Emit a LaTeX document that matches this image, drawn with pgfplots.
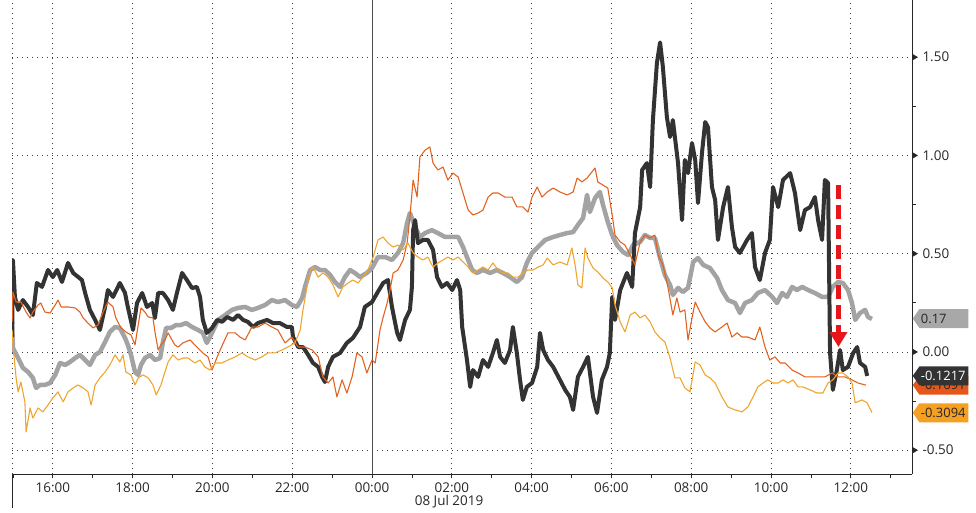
\documentclass[border=0pt]{standalone}
\usepackage{pgfplots}
\pgfplotsset{compat=1.18}
\usepackage{fontspec}
\setmainfont{Open Sans}
\usetikzlibrary{arrows.meta,shapes.symbols}
\definecolor{cblack}{HTML}{333333}
\definecolor{cgray}{HTML}{A3A3A3}
\definecolor{corange}{HTML}{E2631F}
\definecolor{cyellow}{HTML}{EFA52E}
\definecolor{bgray}{HTML}{A8A8A8}
\definecolor{borange}{HTML}{E4571A}
\definecolor{byellow}{HTML}{F5A023}
\definecolor{cred}{HTML}{E8161B}
\begin{document}
\begin{tikzpicture}[x=1bp,y=1bp]
\path[use as bounding box] (-12,-39) rectangle (964,474);
\begin{axis}[
  at={(0,0)}, anchor=south west,
  scale only axis, width=900bp, height=474bp,
  xmin=-9.023, xmax=13.534, ymin=-0.621, ymax=1.791,
  axis x line*=bottom, axis y line*=right,
  axis line style={draw=black!85, line width=0.8bp},
  xtick={-8,-6,...,12},
  xticklabels={16:00,18:00,20:00,22:00,00:00,02:00,04:00,06:00,08:00,10:00,12:00},
  minor xtick={-9,-7,...,13},
  ytick={-0.5,0,0.5,1,1.5},
  yticklabels={-0.50,0.00,0.50,1.00,1.50},
  minor ytick={-0.25,0.25,0.75,1.25},
  tick align=outside,
  major tick length=4bp, minor tick length=4bp,
  tick style={draw=black!85, line width=0.7bp},
  grid=major,
  major grid style={draw=black!75, line width=0.8bp, dash pattern=on 1bp off 4bp},
  xticklabel style={font=\fontsize{13.5}{15}\selectfont, text=black!85, anchor=north, yshift=-1bp},
  yticklabel style={font=\fontsize{13.5}{15}\selectfont, text=black!85, anchor=west, xshift=3bp},
  clip mode=individual,
]
% left dotted edge and 00:00 separator
\draw[black!75, line width=0.8bp, dash pattern=on 1bp off 4bp] (axis cs:-9.023,-0.621) -- (axis cs:-9.023,1.791);
\draw[black!70, line width=0.9bp] (axis cs:0,-0.621) -- (axis cs:0,1.791);
\draw[black!85, line width=0.9bp] (axis cs:-9.023,-0.621) -- ++(0bp,-34bp);
\node[font=\fontsize{13.5}{15}\selectfont, text=black!85] at (axis cs:1.93,-0.621) [yshift=-28bp] {08 Jul 2019};

% gray
\addplot[cgray, line width=4.5bp, line join=round] coordinates {
(-9.02,0.153)(-9.00,0.020)(-8.87,-0.031)(-8.75,-0.081)(-8.62,-0.102)(-8.50,-0.132)(-8.42,-0.183)(-8.32,-0.168)(-8.20,-0.168)(-8.07,-0.158)(-7.94,-0.117)(-7.82,-0.056)(-7.69,-0.066)(-7.57,-0.051)(-7.44,-0.031)(-7.32,-0.015)(-7.19,-0.041)(-7.07,-0.066)(-6.94,-0.015)(-6.82,0.000)(-6.69,0.051)(-6.57,0.102)(-6.44,0.127)(-6.32,0.122)(-6.19,0.071)(-6.12,0.036)(-6.04,-0.015)(-5.94,-0.102)(-5.86,-0.117)(-5.79,-0.066)(-5.69,-0.031)(-5.56,-0.015)(-5.44,-0.041)(-5.31,-0.031)(-5.24,0.051)(-5.16,0.122)(-5.04,0.122)(-4.91,0.137)(-4.79,0.137)(-4.66,0.147)(-4.51,0.127)(-4.36,0.112)(-4.24,0.097)(-4.14,0.046)(-4.01,0.097)(-3.86,0.163)(-3.68,0.188)(-3.51,0.214)(-3.36,0.224)(-3.18,0.229)(-3.01,0.214)(-2.86,0.224)(-2.68,0.239)(-2.51,0.264)(-2.36,0.254)(-2.18,0.264)(-2.01,0.239)(-1.88,0.229)(-1.75,0.275)(-1.68,0.331)(-1.55,0.417)(-1.43,0.432)(-1.30,0.417)(-1.18,0.417)(-1.05,0.392)(-0.93,0.356)(-0.80,0.331)(-0.68,0.381)(-0.55,0.417)(-0.43,0.402)(-0.30,0.381)(-0.13,0.402)(0.00,0.427)(0.15,0.483)(0.33,0.483)(0.50,0.468)(0.65,0.504)(0.78,0.554)(0.88,0.656)(0.95,0.707)(1.08,0.636)(1.20,0.585)(1.33,0.605)(1.50,0.620)(1.65,0.605)(1.83,0.585)(2.01,0.585)(2.16,0.585)(2.28,0.534)(2.38,0.483)(2.51,0.417)(2.63,0.402)(2.78,0.417)(2.96,0.402)(3.13,0.417)(3.28,0.402)(3.46,0.381)(3.63,0.356)(3.76,0.381)(3.88,0.453)(4.01,0.504)(4.16,0.534)(4.34,0.570)(4.54,0.585)(4.71,0.595)(4.89,0.605)(5.04,0.610)(5.16,0.646)(5.29,0.682)(5.39,0.799)(5.46,0.712)(5.59,0.783)(5.71,0.814)(5.79,0.748)(5.91,0.661)(6.02,0.595)(6.14,0.544)(6.29,0.509)(6.42,0.493)(6.54,0.544)(6.72,0.560)(6.84,0.595)(6.97,0.580)(7.09,0.580)(7.22,0.478)(7.34,0.392)(7.47,0.341)(7.54,0.290)(7.67,0.326)(7.79,0.305)(7.92,0.326)(8.05,0.458)(8.17,0.478)(8.30,0.443)(8.47,0.427)(8.65,0.376)(8.77,0.315)(8.92,0.264)(9.10,0.249)(9.22,0.198)(9.35,0.249)(9.52,0.264)(9.67,0.300)(9.85,0.315)(10.03,0.280)(10.15,0.249)(10.28,0.300)(10.40,0.280)(10.53,0.331)(10.65,0.315)(10.78,0.331)(10.93,0.315)(11.10,0.300)(11.28,0.280)(11.43,0.280)(11.55,0.331)(11.68,0.356)(11.80,0.351)(11.93,0.315)(12.03,0.249)(12.11,0.163)(12.23,0.198)(12.36,0.214)(12.43,0.178)(12.53,0.168)
};
% black
\addplot[cblack, line width=4bp, line join=round] coordinates {
(-9.02,0.076)(-9.00,0.468)(-8.95,0.280)(-8.87,0.214)(-8.75,0.264)(-8.62,0.229)(-8.50,0.188)(-8.40,0.351)(-8.27,0.331)(-8.12,0.417)(-8.00,0.381)(-7.89,0.417)(-7.77,0.356)(-7.62,0.453)(-7.49,0.402)(-7.27,0.366)(-7.19,0.300)(-7.07,0.214)(-6.94,0.163)(-6.82,0.112)(-6.69,0.229)(-6.62,0.315)(-6.49,0.280)(-6.32,0.351)(-6.19,0.300)(-6.12,0.229)(-5.99,0.112)(-5.89,0.249)(-5.76,0.300)(-5.64,0.229)(-5.51,0.249)(-5.44,0.173)(-5.36,0.300)(-5.24,0.300)(-5.11,0.264)(-4.99,0.214)(-4.89,0.300)(-4.76,0.402)(-4.64,0.366)(-4.51,0.325)(-4.39,0.331)(-4.31,0.280)(-4.24,0.163)(-4.14,0.097)(-4.01,0.122)(-3.88,0.163)(-3.76,0.153)(-3.63,0.178)(-3.48,0.163)(-3.36,0.188)(-3.23,0.163)(-3.11,0.153)(-2.98,0.127)(-2.86,0.147)(-2.63,0.163)(-2.48,0.147)(-2.31,0.147)(-2.13,0.127)(-2.01,0.127)(-1.98,0.076)(-1.85,0.025)(-1.73,0.025)(-1.60,-0.015)(-1.48,-0.056)(-1.35,-0.076)(-1.25,-0.127)(-1.18,-0.153)(-1.10,-0.076)(-0.98,-0.025)(-0.80,-0.005)(-0.63,0.046)(-0.48,0.071)(-0.30,0.127)(-0.18,0.229)(0.00,0.254)(0.13,0.300)(0.28,0.351)(0.40,0.366)(0.50,0.229)(0.63,0.097)(0.70,0.061)(0.83,0.163)(0.95,0.214)(1.00,0.331)(1.03,0.620)(1.08,0.671)(1.15,0.554)(1.28,0.570)(1.40,0.570)(1.53,0.519)(1.63,0.381)(1.75,0.331)(1.88,0.351)(2.01,0.315)(2.13,0.366)(2.21,0.315)(2.26,0.127)(2.38,-0.041)(2.46,-0.178)(2.53,-0.092)(2.66,-0.127)(2.78,-0.041)(2.91,-0.076)(3.03,-0.005)(3.13,0.061)(3.21,-0.025)(3.33,-0.056)(3.46,0.010)(3.53,0.127)(3.63,-0.005)(3.71,-0.142)(3.78,-0.244)(3.88,-0.178)(4.01,-0.158)(4.14,-0.076)(4.21,0.097)(4.29,0.010)(4.41,-0.041)(4.54,-0.076)(4.71,-0.142)(4.84,-0.193)(4.96,-0.229)(5.04,-0.295)(5.16,-0.127)(5.29,-0.076)(5.41,-0.025)(5.54,-0.229)(5.64,-0.310)(5.76,-0.142)(5.89,-0.076)(5.96,-0.005)(6.02,0.280)(6.09,0.163)(6.22,0.315)(6.39,0.402)(6.52,0.331)(6.59,0.605)(6.72,0.737)(6.77,0.926)(6.89,0.961)(6.97,0.839)(7.04,1.180)(7.14,1.470)(7.22,1.575)(7.29,1.450)(7.39,1.195)(7.47,1.094)(7.54,1.180)(7.67,0.961)(7.77,0.671)(7.84,0.977)(7.92,0.910)(8.02,1.063)(8.10,0.977)(8.17,0.758)(8.27,1.012)(8.35,1.170)(8.42,1.144)(8.52,0.839)(8.60,0.773)(8.67,0.570)(8.80,0.737)(8.92,0.839)(9.02,0.636)(9.10,0.534)(9.22,0.504)(9.40,0.570)(9.52,0.605)(9.60,0.432)(9.72,0.366)(9.85,0.504)(9.97,0.570)(10.05,0.839)(10.18,0.737)(10.30,0.875)(10.48,0.910)(10.60,0.809)(10.73,0.620)(10.85,0.722)(10.98,0.737)(11.10,0.788)(11.18,0.671)(11.28,0.570)(11.35,0.875)(11.43,0.860)(11.48,-0.005)(11.55,-0.193)(11.65,-0.092)(11.73,0.010)(11.80,-0.092)(11.93,-0.076)(12.06,-0.005)(12.16,0.025)(12.23,-0.056)(12.36,-0.076)(12.41,-0.122)
};
% orange
\addplot[corange, line width=1.1bp, line join=round] coordinates {
(-9.02,0.153)(-9.00,0.305)(-8.92,0.254)(-8.80,0.254)(-8.67,0.203)(-8.57,0.173)(-8.50,0.203)(-8.37,0.239)(-8.30,0.249)(-8.20,0.203)(-8.07,0.198)(-7.94,0.239)(-7.87,0.264)(-7.79,0.229)(-7.62,0.229)(-7.44,0.224)(-7.32,0.203)(-7.24,0.173)(-7.12,0.147)(-6.99,0.122)(-6.87,0.137)(-6.74,0.203)(-6.62,0.254)(-6.49,0.229)(-6.42,0.173)(-6.29,0.122)(-6.17,0.102)(-6.04,0.086)(-5.94,0.036)(-5.86,0.137)(-5.79,0.224)(-5.69,0.203)(-5.61,0.178)(-5.49,0.173)(-5.44,0.102)(-5.36,0.010)(-5.29,0.036)(-5.19,0.061)(-5.11,0.097)(-5.04,0.071)(-4.94,0.036)(-4.86,0.025)(-4.74,0.046)(-4.56,0.061)(-4.39,0.025)(-4.24,-0.005)(-4.11,-0.025)(-4.01,-0.092)(-3.88,-0.025)(-3.76,0.031)(-3.61,0.097)(-3.43,0.097)(-3.31,0.076)(-3.18,0.061)(-3.01,0.127)(-2.86,0.127)(-2.68,0.147)(-2.51,0.127)(-2.36,0.112)(-2.18,0.046)(-2.01,0.076)(-1.85,0.025)(-1.68,0.025)(-1.50,0.010)(-1.35,-0.025)(-1.23,-0.127)(-1.10,-0.158)(-0.98,-0.127)(-0.88,-0.229)(-0.75,-0.142)(-0.63,-0.209)(-0.50,-0.127)(-0.38,-0.005)(-0.25,-0.025)(-0.13,-0.107)(0.00,-0.041)(0.08,-0.056)(0.20,0.112)(0.28,0.178)(0.38,0.249)(0.45,0.315)(0.53,0.402)(0.65,0.417)(0.78,0.468)(0.88,0.554)(0.95,0.687)(1.03,0.875)(1.13,0.788)(1.20,0.992)(1.33,1.027)(1.45,1.043)(1.53,0.961)(1.65,0.926)(1.78,0.941)(1.90,0.875)(2.03,0.910)(2.16,0.890)(2.28,0.809)(2.41,0.722)(2.53,0.697)(2.66,0.707)(2.78,0.722)(2.91,0.788)(3.03,0.809)(3.16,0.809)(3.33,0.788)(3.51,0.788)(3.63,0.738)(3.78,0.738)(3.91,0.712)(4.01,0.788)(4.14,0.839)(4.26,0.788)(4.39,0.814)(4.54,0.834)(4.71,0.814)(4.89,0.799)(5.04,0.814)(5.14,0.885)(5.26,0.865)(5.39,0.885)(5.51,0.916)(5.59,0.936)(5.66,0.865)(5.79,0.849)(5.91,0.834)(6.02,0.697)(6.09,0.595)(6.22,0.560)(6.34,0.544)(6.47,0.493)(6.59,0.443)(6.72,0.560)(6.84,0.595)(6.97,0.580)(7.09,0.595)(7.17,0.493)(7.29,0.443)(7.42,0.326)(7.54,0.188)(7.64,0.275)(7.72,0.203)(7.84,0.214)(7.92,0.061)(8.02,0.173)(8.10,0.254)(8.22,0.203)(8.35,0.153)(8.47,0.122)(8.60,0.102)(8.77,0.127)(8.90,0.147)(9.02,0.076)(9.15,0.097)(9.27,0.076)(9.42,0.076)(9.60,0.061)(9.72,0.127)(9.85,0.025)(9.97,-0.041)(10.10,-0.025)(10.23,-0.056)(10.35,-0.056)(10.53,-0.092)(10.68,-0.107)(10.85,-0.127)(11.03,-0.127)(11.18,-0.127)(11.35,-0.127)(11.53,-0.107)(11.68,-0.127)(11.85,-0.127)(12.03,-0.142)(12.18,-0.158)(12.38,-0.169)
};
% yellow
\addplot[cyellow, line width=1.1bp, line join=round] coordinates {
(-9.02,0.112)(-9.00,0.036)(-8.92,-0.132)(-8.87,-0.203)(-8.80,-0.153)(-8.70,-0.254)(-8.67,-0.407)(-8.57,-0.285)(-8.50,-0.336)(-8.37,-0.285)(-8.25,-0.305)(-8.12,-0.270)(-8.00,-0.234)(-7.87,-0.203)(-7.74,-0.254)(-7.62,-0.203)(-7.49,-0.183)(-7.37,-0.168)(-7.24,-0.183)(-7.12,-0.203)(-7.04,-0.270)(-6.94,-0.168)(-6.82,-0.132)(-6.69,-0.102)(-6.57,-0.066)(-6.44,-0.015)(-6.32,-0.051)(-6.24,-0.015)(-6.17,-0.102)(-6.04,-0.117)(-5.94,-0.168)(-5.86,-0.132)(-5.74,-0.117)(-5.61,-0.132)(-5.49,-0.168)(-5.41,-0.219)(-5.29,-0.168)(-5.19,-0.102)(-5.11,-0.051)(-4.99,-0.015)(-4.86,-0.041)(-4.74,-0.031)(-4.61,-0.031)(-4.44,-0.056)(-4.31,-0.041)(-4.19,-0.076)(-4.06,-0.092)(-3.93,-0.056)(-3.76,-0.056)(-3.61,-0.041)(-3.43,-0.025)(-3.26,-0.005)(-3.11,-0.025)(-2.93,-0.041)(-2.76,-0.025)(-2.61,-0.005)(-2.43,-0.005)(-2.26,0.010)(-2.11,0.025)(-1.93,0.046)(-1.80,0.112)(-1.73,0.214)(-1.63,0.331)(-1.55,0.417)(-1.48,0.432)(-1.35,0.381)(-1.23,0.402)(-1.10,0.381)(-0.98,0.341)(-0.85,0.280)(-0.73,0.331)(-0.60,0.351)(-0.48,0.366)(-0.35,0.351)(-0.23,0.381)(-0.10,0.417)(0.03,0.483)(0.15,0.570)(0.28,0.585)(0.40,0.554)(0.53,0.534)(0.65,0.544)(0.78,0.519)(0.90,0.554)(1.03,0.504)(1.15,0.483)(1.28,0.468)(1.40,0.483)(1.53,0.432)(1.65,0.453)(1.78,0.468)(1.90,0.483)(2.03,0.468)(2.16,0.483)(2.28,0.458)(2.41,0.432)(2.53,0.402)(2.66,0.417)(2.78,0.432)(2.91,0.417)(3.03,0.453)(3.16,0.417)(3.28,0.402)(3.41,0.402)(3.53,0.381)(3.66,0.381)(3.78,0.402)(3.91,0.417)(4.04,0.417)(4.16,0.432)(4.29,0.443)(4.39,0.478)(4.54,0.443)(4.71,0.458)(4.89,0.443)(5.01,0.529)(5.09,0.443)(5.16,0.341)(5.26,0.326)(5.34,0.529)(5.41,0.478)(5.54,0.427)(5.66,0.407)(5.79,0.376)(5.91,0.356)(6.02,0.326)(6.09,0.239)(6.22,0.153)(6.34,0.102)(6.47,0.188)(6.59,0.203)(6.72,0.173)(6.84,0.188)(6.97,0.153)(7.09,0.102)(7.22,0.071)(7.34,0.051)(7.47,-0.031)(7.59,-0.132)(7.72,-0.132)(7.84,-0.183)(7.97,-0.203)(8.10,-0.051)(8.22,-0.066)(8.35,-0.117)(8.47,-0.132)(8.60,-0.158)(8.77,-0.229)(8.92,-0.280)(9.10,-0.295)(9.27,-0.305)(9.42,-0.280)(9.55,-0.229)(9.67,-0.178)(9.80,-0.158)(9.92,-0.142)(10.05,-0.158)(10.18,-0.158)(10.30,-0.142)(10.43,-0.158)(10.55,-0.142)(10.68,-0.178)(10.80,-0.178)(10.98,-0.193)(11.15,-0.209)(11.30,-0.209)(11.43,-0.158)(11.55,-0.142)(11.68,-0.107)(11.80,-0.107)(11.93,-0.127)(12.03,-0.158)(12.11,-0.259)(12.28,-0.244)(12.41,-0.259)(12.53,-0.309)
};

% red dashed arrow
\draw[cred, line width=5.5bp, dash pattern=on 14bp off 6bp, -{Triangle[width=17bp,length=15bp]}] (axis cs:11.69,0.85) -- (axis cs:11.69,0.025);

% right axis triangles
\pgfplotsinvokeforeach{-0.5,0,0.5,1,1.5}{
  \fill[black!85] (axis cs:13.534,#1) ++(0bp,3.5bp) -- ++(6bp,-3.5bp) -- ++(-6bp,-3.5bp) -- cycle;
}

% last value labels
\tikzset{vlab/.style={signal, signal to=west, signal pointer angle=110, minimum height=19bp, inner xsep=1.5bp, inner ysep=0bp, anchor=west, font=\fontsize{13}{15}\selectfont}}
\node[vlab, fill=bgray, text=black!85] at (axis cs:13.534,0.17) [xshift=0.5bp] {\makebox[46bp][l]{0.17}};
\node[vlab, fill=byellow, text=black!85] at (axis cs:13.534,-0.3094) [xshift=0.5bp] {\makebox[46bp][l]{-0.3094}};
\node[vlab, fill=borange, text=black!85] at (axis cs:13.534,-0.1691) [xshift=0.5bp] {\makebox[46bp][l]{-0.1691}};
\node[vlab, fill=cblack, text=white] at (axis cs:13.534,-0.1217) [xshift=0.5bp] {\makebox[46bp][l]{-0.1217}};
\end{axis}
\end{tikzpicture}
\end{document}
